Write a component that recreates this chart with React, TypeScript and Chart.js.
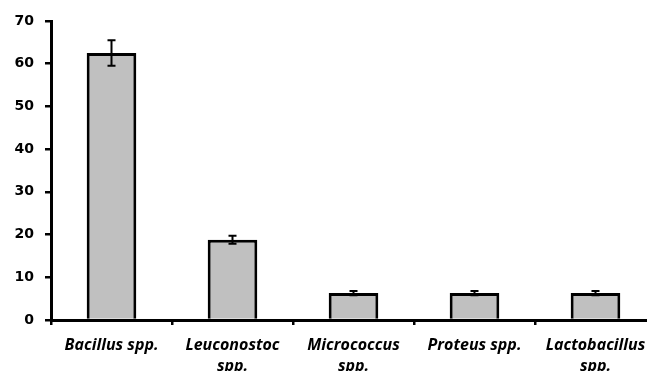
import React, { useEffect, useRef } from "react";
import { Chart, registerables } from "chart.js";

Chart.register(...registerables);

const categories: string[][] = [
  ["Bacillus spp."],
  ["Leuconostoc", "spp."],
  ["Micrococcus", "spp."],
  ["Proteus spp."],
  ["Lactobacillus", "spp."],
];
const values: number[] = [62.5, 18.8, 6.3, 6.3, 6.3];
const errors: number[] = [3.0, 0.95, 0.5, 0.5, 0.5];
const yTicks: number[] = [0, 10, 20, 30, 40, 50, 60, 70];

const errorBarPlugin = {
  id: "errorBars",
  afterDatasetsDraw(chart: any) {
    const meta = chart.getDatasetMeta(0);
    const y = chart.scales.y;
    const ctx = chart.ctx;
    ctx.save();
    ctx.strokeStyle = "#000";
    ctx.lineWidth = 2;
    meta.data.forEach((bar: any, i: number) => {
      const x = bar.x;
      const top = y.getPixelForValue(values[i] + errors[i]);
      const bot = y.getPixelForValue(values[i] - errors[i]);
      const cap = 4;
      ctx.beginPath();
      ctx.moveTo(x, top);
      ctx.lineTo(x, bot);
      ctx.moveTo(x - cap, top);
      ctx.lineTo(x + cap, top);
      ctx.moveTo(x - cap, bot);
      ctx.lineTo(x + cap, bot);
      ctx.stroke();
    });
    ctx.restore();
  },
};

export default function App() {
  const ref = useRef<HTMLCanvasElement | null>(null);
  useEffect(() => {
    if (!ref.current) return;
    const chart = new Chart(ref.current, {
      type: "bar",
      data: {
        labels: categories,
        datasets: [
          {
            data: values,
            backgroundColor: "#c0c0c0",
            borderColor: "#000",
            borderWidth: 3,
            barPercentage: 0.41,
            categoryPercentage: 1,
          },
        ],
      },
      options: {
        responsive: false,
        animation: false,
        layout: { padding: { top: 21, right: 0, left: 0, bottom: 0 } },
        plugins: { legend: { display: false }, tooltip: { enabled: false } },
        scales: {
          x: {
            offset: true,
            grid: {
              offset: true,
              drawOnChartArea: false,
              color: "#000",
              lineWidth: 2.5,
              tickLength: 5,
            },
            border: { color: "#000", width: 3 },
            ticks: {
              color: "#000",
              maxRotation: 0,
              autoSkip: false,
              padding: 10,
              font: { family: "'Open Sans'", size: 16, weight: "bold", style: "italic", lineHeight: 1.3 },
            },
            afterFit(scale: any) {
              scale.height = 51;
            },
          },
          y: {
            min: 0,
            max: 70,
            afterBuildTicks(scale: any) {
              scale.ticks = yTicks.map((v) => ({ value: v }));
            },
            grid: {
              drawOnChartArea: false,
              color: "#000",
              lineWidth: 2.5,
              tickLength: 6,
            },
            border: { color: "#000", width: 3 },
            ticks: {
              color: "#000",
              padding: 11,
              font: { family: "'DejaVu Sans'", size: 14, weight: "bold" },
            },
            afterFit(scale: any) {
              scale.width = 51;
            },
          },
        },
      },
      plugins: [errorBarPlugin],
    });
    return () => chart.destroy();
  }, []);
  return (
    <div style={{ position: "fixed", left: 0, top: 0, width: 656, height: 371, background: "#fff" }}>
      <canvas ref={ref} width={656} height={371} />
    </div>
  );
}
